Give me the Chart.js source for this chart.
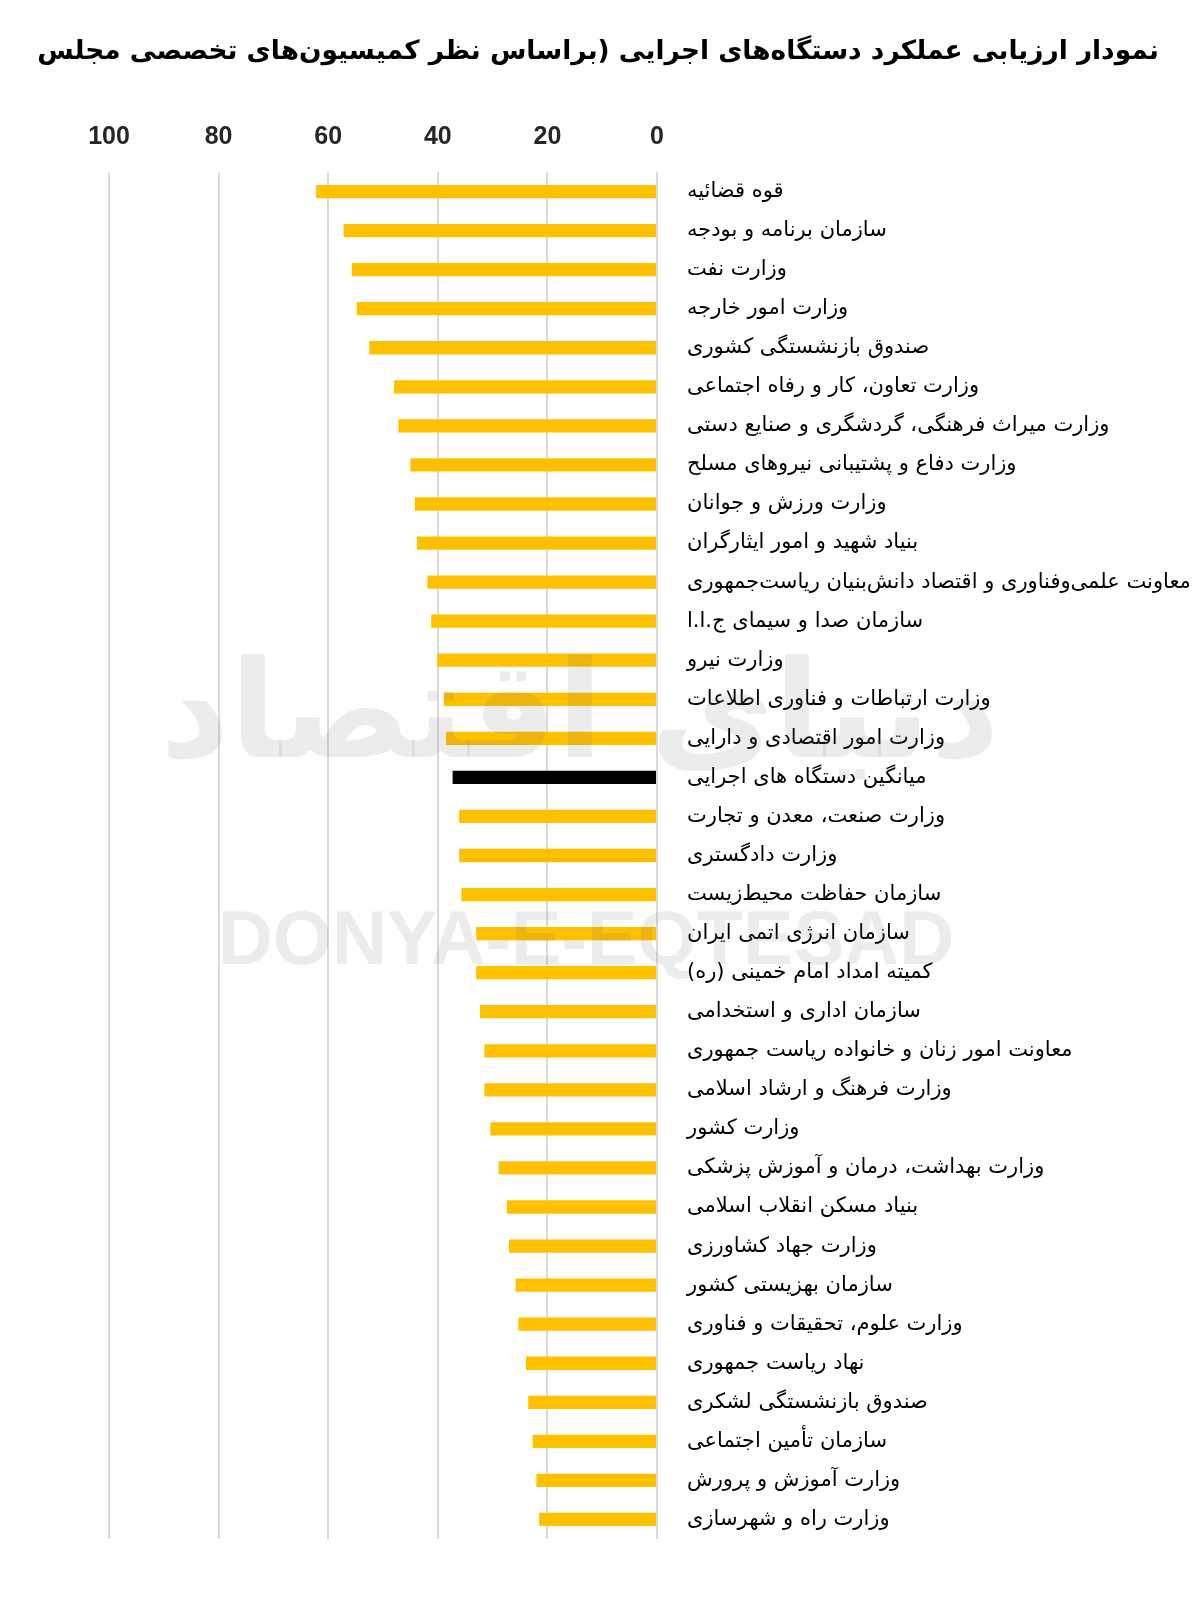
<!DOCTYPE html>
<html lang="fa">
<head>
<meta charset="utf-8">
<title>نمودار ارزیابی عملکرد دستگاه‌های اجرایی</title>
<script src="https://cdn.jsdelivr.net/npm/chart.js@4.4.1/dist/chart.umd.min.js"></script>
<style>
    html, body {
        margin: 0;
        padding: 0;
        background: #ffffff;
    }
    #wrap {
        position: relative;
        width: 1200px;
        height: 1612px;
    }
    #title {
        position: absolute;
        top: 31px;
        left: 0;
        width: 1196px;
        margin: 0;
        text-align: center;
        direction: rtl;
        font-family: "DejaVu Sans", sans-serif;
        font-weight: bold;
        font-size: 26.4px;
        line-height: 38px;
        color: #000000;
        white-space: nowrap;
    }
    #chart {
        direction: rtl;
    }
</style>
</head>
<body>
<div id="wrap">
    <canvas id="chart" width="1200" height="1612"></canvas>
    <h1 id="title"></h1>
</div>
<script>
// Chart data
const chartTitle = 'نمودار ارزیابی عملکرد دستگاه\u200cهای اجرایی (براساس نظر کمیسیون\u200cهای تخصصی مجلس';

const agencies = [
    'قوه قضائیه',
    'سازمان برنامه و بودجه',
    'وزارت نفت',
    'وزارت امور خارجه',
    'صندوق بازنشستگی کشوری',
    'وزارت تعاون، کار و رفاه اجتماعی',
    'وزارت میراث فرهنگی، گردشگری و صنایع دستی',
    'وزارت دفاع و پشتیبانی نیروهای مسلح',
    'وزارت ورزش و جوانان',
    'بنیاد شهید و امور ایثارگران',
    'معاونت علمی\u200cوفناوری و اقتصاد دانش\u200cبنیان ریاست\u200cجمهوری',
    'سازمان صدا و سیمای ج.ا.ا',
    'وزارت نیرو',
    'وزارت ارتباطات و فناوری اطلاعات',
    'وزارت امور اقتصادی و دارایی',
    'میانگین دستگاه های اجرایی',
    'وزارت صنعت، معدن و تجارت',
    'وزارت دادگستری',
    'سازمان حفاظت محیط\u200cزیست',
    'سازمان انرژی اتمی ایران',
    'کمیته امداد امام خمینی (ره)',
    'سازمان اداری و استخدامی',
    'معاونت امور زنان و خانواده ریاست جمهوری',
    'وزارت فرهنگ و ارشاد اسلامی',
    'وزارت کشور',
    'وزارت بهداشت، درمان و آموزش پزشکی',
    'بنیاد مسکن انقلاب اسلامی',
    'وزارت جهاد کشاورزی',
    'سازمان بهزیستی کشور',
    'وزارت علوم، تحقیقات و فناوری',
    'نهاد ریاست جمهوری',
    'صندوق بازنشستگی لشکری',
    'سازمان تأمین اجتماعی',
    'وزارت آموزش و پرورش',
    'وزارت راه و شهرسازی'
];

const scores = [
    62.2, 57.2, 55.7, 54.8, 52.5, 48.0, 47.2, 45.0, 44.2, 43.8,
    41.9, 41.2, 40.1, 38.9, 38.5, 37.3, 36.1, 36.1, 35.7, 33.0,
    33.0, 32.3, 31.5, 31.5, 30.4, 28.9, 27.4, 27.0, 25.8, 25.3,
    23.9, 23.5, 22.7, 22.0, 21.5
];

const averageLabel = 'میانگین دستگاه های اجرایی';
const tickValues = [0, 20, 40, 60, 80, 100];

const barColor = '#FFC000';
const averageColor = '#000000';

// Watermark drawn on top of the bars
const watermark = {
    id: 'watermark',
    afterDatasetsDraw(chart) {
        const ctx = chart.ctx;
        ctx.save();
        ctx.textAlign = 'center';
        ctx.textBaseline = 'middle';
        ctx.fillStyle = 'rgba(110, 110, 110, 0.13)';
        ctx.font = 'bold 135px "DejaVu Sans"';
        ctx.fillText('دنیای اقتصاد', 580, 722);
        ctx.font = 'bold 76px "Liberation Sans Narrow", "Liberation Sans"';
        ctx.fillText('DONYA-E-EQTESAD', 586, 943);
        ctx.restore();
    }
};

document.addEventListener('DOMContentLoaded', function() {
    document.getElementById('title').textContent = chartTitle;
    const ctx = document.getElementById('chart');

    new Chart(ctx, {
        type: 'bar',
        data: {
            labels: agencies,
            datasets: [{
                data: scores,
                backgroundColor: agencies.map(a => a === averageLabel ? averageColor : barColor),
                borderWidth: 0,
                barPercentage: 0.34,
                categoryPercentage: 1.0
            }]
        },
        options: {
            indexAxis: 'y',
            responsive: false,
            animation: false,
            layout: {
                padding: { left: 109, right: 0, top: 70, bottom: 73 }
            },
            plugins: {
                legend: { display: false },
                tooltip: { enabled: false },
                title: { display: false }
            },
            scales: {
                x: {
                    position: 'top',
                    reverse: true,
                    min: 0,
                    max: 100,
                    afterBuildTicks(axis) {
                        axis.ticks = tickValues.map(v => ({ value: v }));
                    },
                    grid: {
                        color: '#d9d9d9',
                        lineWidth: 2,
                        drawTicks: false
                    },
                    border: { display: false },
                    ticks: {
                        color: '#262626',
                        padding: 20,
                        font: { family: '"Liberation Sans"', size: 25, weight: 'bold' }
                    },
                    afterFit(axis) {
                        axis.height = 102;
                    }
                },
                y: {
                    position: 'right',
                    grid: { display: false },
                    border: { display: false },
                    ticks: {
                        color: '#000000',
                        padding: 22,
                        crossAlign: 'near',
                        autoSkip: false,
                        font: { family: '"DejaVu Sans"', size: 21 }
                    },
                    afterFit(axis) {
                        axis.width = 543;
                    }
                }
            }
        },
        plugins: [watermark]
    });
});
</script>
</body>
</html>
